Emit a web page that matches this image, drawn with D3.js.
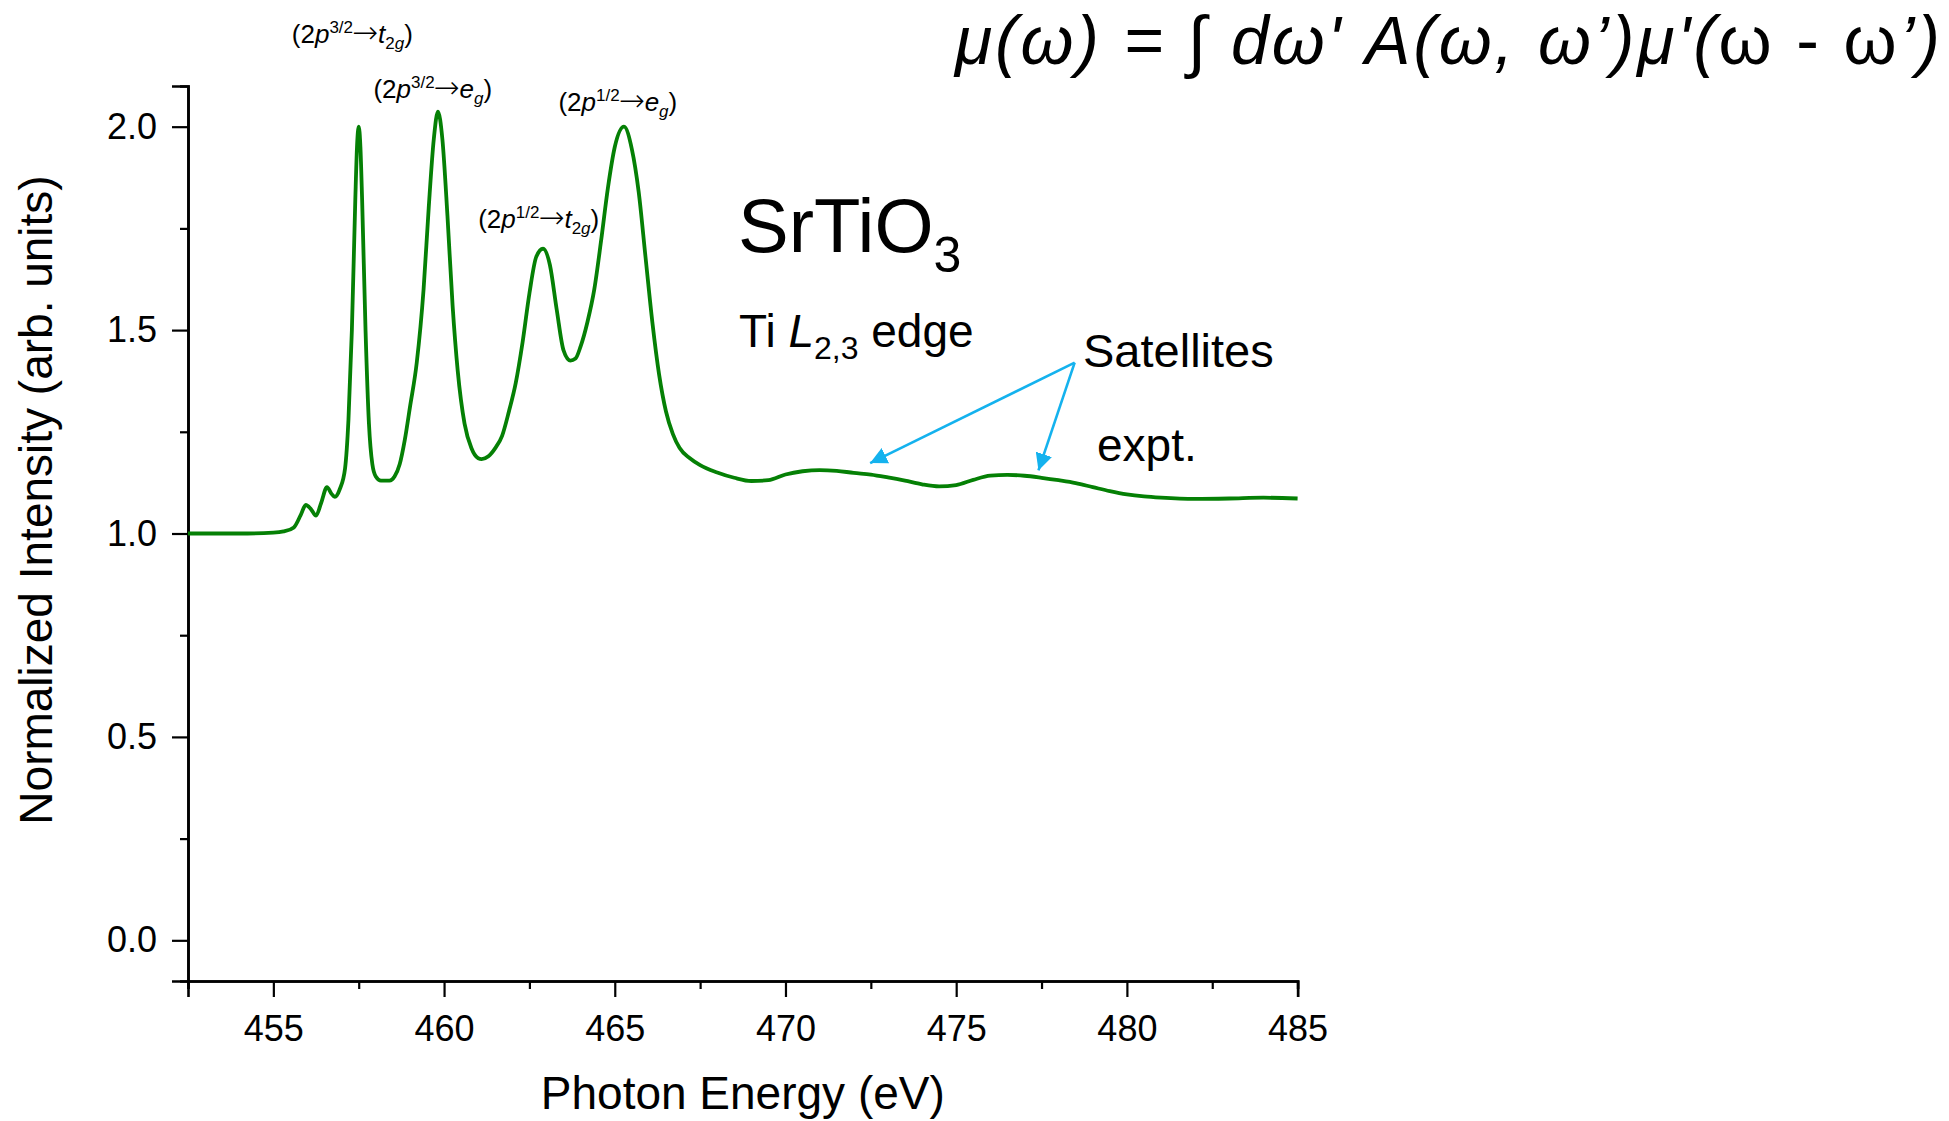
<!DOCTYPE html>
<html>
<head>
<meta charset="utf-8">
<script src="https://cdn.jsdelivr.net/npm/d3@7"></script>
<style>
  html, body { margin: 0; padding: 0; background: #fff; overflow: hidden; }
  svg { display: block; font-family: "Liberation Sans", Arial, sans-serif; }
</style>
</head>
<body>
<svg id="chart" width="1949" height="1121"></svg>
<script>
// Ti L2,3-edge XAS spectrum of SrTiO3 (experimental), normalized intensity vs photon energy
const energy = [
  452.5, 453.0, 454.0, 455.0, 455.3, 455.6, 455.8, 455.95, 456.1, 456.25,
  456.4, 456.57, 456.7, 456.8, 456.95, 457.1, 457.2, 457.3, 457.4, 457.45,
  457.5, 457.55, 457.6, 457.7, 457.8, 457.9, 458.0, 458.15, 458.4, 458.55,
  458.7, 458.85, 459.0, 459.2, 459.4, 459.55, 459.7, 459.82, 459.95, 460.1,
  460.25, 460.4, 460.6, 460.8, 461.0, 461.1, 461.3, 461.5, 461.7, 461.9,
  462.1, 462.3, 462.5, 462.7, 462.9, 463.1, 463.3, 463.5, 463.7, 463.85,
  464.0, 464.2, 464.4, 464.6, 464.8, 465.0, 465.27, 465.5, 465.7, 465.9,
  466.1, 466.3, 466.5, 466.7, 466.9, 467.2, 467.5, 468.0, 468.5, 469.0,
  469.5, 470.0, 470.5, 471.0, 471.5, 472.0, 472.5, 473.0, 473.5, 474.0,
  474.5, 475.0, 475.5, 476.0, 476.5, 477.0, 477.5, 478.0, 478.5, 479.0,
  479.5, 480.0, 480.5, 481.0, 482.0, 483.0, 484.0, 485.0
];
const intensity = [
  1.000, 1.000, 1.000, 1.002, 1.005, 1.015, 1.045, 1.070, 1.060, 1.044,
  1.075, 1.114, 1.098, 1.090, 1.110, 1.160, 1.280, 1.500, 1.820, 1.950,
  2.000, 1.950, 1.820, 1.500, 1.270, 1.170, 1.140, 1.130, 1.130, 1.140,
  1.170, 1.230, 1.310, 1.420, 1.600, 1.800, 1.970, 2.037, 1.970, 1.780,
  1.560, 1.400, 1.270, 1.210, 1.185, 1.183, 1.190, 1.210, 1.240, 1.300,
  1.370, 1.470, 1.590, 1.680, 1.700, 1.660, 1.550, 1.450, 1.425, 1.430,
  1.460, 1.520, 1.600, 1.720, 1.850, 1.950, 2.000, 1.945, 1.840, 1.680,
  1.520, 1.390, 1.300, 1.245, 1.210, 1.185, 1.168, 1.150, 1.137, 1.129,
  1.131, 1.145, 1.153, 1.156, 1.154, 1.149, 1.145, 1.138, 1.130, 1.121,
  1.116, 1.119, 1.132, 1.142, 1.144, 1.142, 1.137, 1.131, 1.124, 1.114,
  1.104, 1.096, 1.091, 1.088, 1.085, 1.086, 1.088, 1.086
];

const xMajorTicks = [455, 460, 465, 470, 475, 480, 485];
const xMinorTicks = [452.5, 457.5, 462.5, 467.5, 472.5, 477.5, 482.5];
const yMajorTicks = [0.0, 0.5, 1.0, 1.5, 2.0];
const yMinorTicks = [0.25, 0.75, 1.25, 1.75];

const xTitle = "Photon Energy (eV)";
const yTitle = "Normalized Intensity (arb. units)";

// Transition labels: core-level superscript, final state and its subscript, anchored in data space
const transitionLabels = [
  { sup: "3/2", fin: "t", sub: "2g", e: 455.54, v: 2.205 },
  { sup: "3/2", fin: "e", sub: "g",  e: 457.93, v: 2.070 },
  { sup: "1/2", fin: "t", sub: "2g", e: 461.0,  v: 1.752 },
  { sup: "1/2", fin: "e", sub: "g",  e: 463.35, v: 2.038 }
];

const svg = d3.select("#chart");

const x = d3.scaleLinear().domain([452.5, 485]).range([188, 1297.6]);
const y = d3.scaleLinear().domain([-0.1, 2.1]).range([981, 86]);

// axes
const gx = svg.append("g").attr("transform", `translate(0,${y(-0.1)})`);
gx.call(d3.axisBottom(x).tickValues(xMajorTicks).tickSize(16).tickPadding(18).tickFormat(d3.format("d")));
const gxMinor = svg.append("g").attr("transform", `translate(0,${y(-0.1)})`);
gxMinor.call(d3.axisBottom(x).tickValues(xMinorTicks).tickSize(8).tickFormat(""));

const gy = svg.append("g").attr("transform", `translate(${x(452.5)},0)`);
gy.call(d3.axisLeft(y).tickValues(yMajorTicks).tickSize(16).tickPadding(15).tickFormat(d3.format(".1f")));
const gyMinor = svg.append("g").attr("transform", `translate(${x(452.5)},0)`);
gyMinor.call(d3.axisLeft(y).tickValues(yMinorTicks).tickSize(8).tickFormat(""));

[gx, gxMinor, gy, gyMinor].forEach(g => {
  g.selectAll(".domain").attr("stroke", "#000").attr("stroke-width", 2.6);
  g.selectAll(".tick line").attr("stroke", "#000").attr("stroke-width", 2.2);
  g.selectAll(".tick text").attr("fill", "#000").style("font-size", "36px")
    .style("font-family", "'Liberation Sans', Arial, sans-serif");
});

// axis titles
svg.append("text")
  .attr("x", (x(452.5) + x(485)) / 2).attr("y", 1109)
  .attr("text-anchor", "middle").style("font-size", "46px").attr("fill", "#000")
  .text(xTitle);
svg.append("text")
  .attr("transform", "translate(52,500) rotate(-90)")
  .attr("text-anchor", "middle").style("font-size", "46px").attr("fill", "#000")
  .text(yTitle);

// spectrum
const pts = energy.map((e, i) => [e, intensity[i]]);
svg.append("path")
  .datum(pts)
  .attr("fill", "none")
  .attr("stroke", "#058005")
  .attr("stroke-width", 3.8)
  .attr("stroke-linejoin", "round")
  .attr("d", d3.line().x(d => x(d[0])).y(d => y(d[1])).curve(d3.curveMonotoneX));

// transition labels, e.g. (2p^{3/2}→t_{2g})
transitionLabels.forEach(l => {
  const t = svg.append("text")
    .attr("x", x(l.e)).attr("y", y(l.v))
    .style("font-size", "26px").attr("fill", "#000");
  t.append("tspan").text("(2");
  t.append("tspan").style("font-style", "italic").text("p");
  t.append("tspan").attr("dy", -10).style("font-size", "17px").text(l.sup);
  t.append("tspan").attr("dy", 10)
    .style("font-family", "'DejaVu Sans', sans-serif").style("font-size", "31px")
    .style("font-weight", "200")
    .attr("dx", -1).text("\u2192");
  t.append("tspan").style("font-style", "italic").text(l.fin);
  const sub = t.append("tspan").attr("dy", 6).style("font-size", "17px");
  if (l.sub.length === 2) {
    sub.text(l.sub[0]);
    t.append("tspan").style("font-size", "17px").style("font-style", "italic").text(l.sub[1]);
  } else {
    sub.style("font-style", "italic").text(l.sub);
  }
  t.append("tspan").attr("dy", -6).text(")");
});

// compound name
const name = svg.append("text").attr("x", 738).attr("y", 252)
  .style("font-size", "76px").attr("fill", "#000");
name.append("tspan").text("SrTiO");
name.append("tspan").attr("dy", 20).style("font-size", "50px").text("3");

// edge label
const edge = svg.append("text").attr("x", 739).attr("y", 347)
  .style("font-size", "46px").attr("fill", "#000");
edge.append("tspan").text("Ti ");
edge.append("tspan").style("font-style", "italic").text("L");
edge.append("tspan").attr("dy", 12).style("font-size", "32px").text("2,3");
edge.append("tspan").attr("dy", -12).text(" edge");

// satellites annotation
svg.append("text").attr("x", 1083).attr("y", 367)
  .style("font-size", "47px").attr("fill", "#000").text("Satellites");
svg.append("text").attr("x", 1097).attr("y", 461)
  .style("font-size", "46px").attr("fill", "#000").text("expt.");

const arrowColor = "#14b2ee";
svg.append("defs").append("marker")
  .attr("id", "tri").attr("viewBox", "0 0 10 10")
  .attr("refX", 10).attr("refY", 5)
  .attr("markerWidth", 17).attr("markerHeight", 17)
  .attr("markerUnits", "userSpaceOnUse")
  .attr("orient", "auto")
  .append("path").attr("d", "M0,0 L10,5 L0,10 Z").attr("fill", arrowColor);

const origin = [478.47, 1.42];
const tips = [[472.48, 1.173], [477.41, 1.155]];
tips.forEach(tp => {
  svg.append("line")
    .attr("x1", x(origin[0])).attr("y1", y(origin[1]))
    .attr("x2", x(tp[0])).attr("y2", y(tp[1]))
    .attr("stroke", arrowColor).attr("stroke-width", 2.6)
    .attr("marker-end", "url(#tri)");
});

// convolution formula
const eq = svg.append("text").attr("x", 955).attr("y", 64)
  .attr("textLength", 985).attr("lengthAdjust", "spacing")
  .style("font-size", "68px").attr("fill", "#000");
eq.append("tspan").style("font-style", "italic").text("\u03bc(\u03c9) = \u222b d\u03c9' A(\u03c9, \u03c9\u2019)\u03bc'(");
eq.append("tspan").text("\u03c9 - \u03c9");
eq.append("tspan").style("font-style", "italic").text("\u2019)");
</script>
</body>
</html>
